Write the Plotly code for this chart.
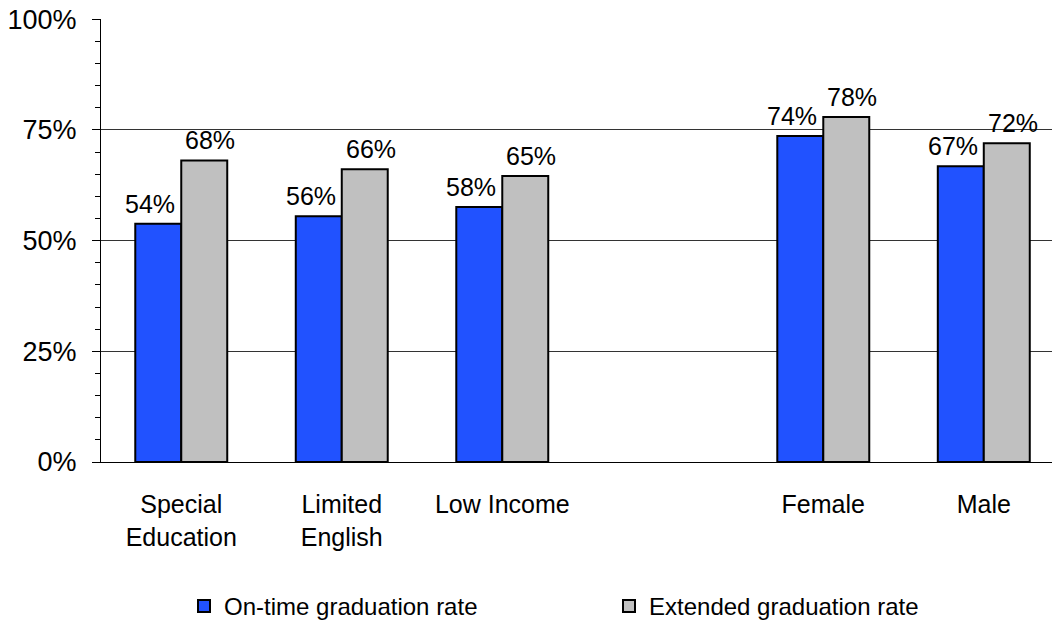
import plotly.graph_objects as go

# groups (blank slot keeps the gap between the two sets of groups)
groups = ["Special<br>Education", "Limited<br>English", "Low Income", " ", "Female", "Male"]
on_time = [53.8, 55.5, 57.6, None, 73.6, 66.8]
extended = [68.1, 66.1, 64.6, None, 77.9, 72.0]
on_time_labels = ["54%", "56%", "58%", "", "74%", "67%"]
extended_labels = ["68%", "66%", "65%", "", "78%", "72%"]
y_ticks = [0, 25, 50, 75, 100]
y_tick_text = ["0%", "25%", "50%", "75%", "100%"]

FONT = "Liberation Sans, Arial, sans-serif"

fig = go.Figure()
fig.add_trace(go.Bar(x=groups, y=on_time, name="On-time graduation rate",
                     marker_color="#2152FF",
                     marker_line=dict(color="black", width=2)))
fig.add_trace(go.Bar(x=groups, y=extended, name="Extended graduation rate",
                     marker_color="#C0C0C0",
                     marker_line=dict(color="black", width=2)))

# value labels sit a little off-centre above each bar, as in the original
for vals, labels, shift in [(on_time, on_time_labels, -31), (extended, extended_labels, 29)]:
    for g, v, t in zip(groups, vals, labels):
        if v is None:
            continue
        fig.add_annotation(x=g, y=v, text=t, showarrow=False, xshift=shift, yshift=4,
                           yanchor="bottom", font=dict(size=25, color="black"))

fig.update_layout(
    width=1052, height=620,
    margin=dict(l=101, r=0, t=19, b=158, autoexpand=False),
    paper_bgcolor="white", plot_bgcolor="white",
    font=dict(family=FONT, color="black"),
    barmode="group", bargap=0.427, bargroupgap=0,
    showlegend=True,
    legend=dict(orientation="h", x=0.0873, xanchor="left", y=-0.275, yanchor="top",
                font=dict(size=24), entrywidth=380, itemwidth=30,
                traceorder="normal"),
)
fig.update_xaxes(range=[-0.5, 5.425], showline=True, linecolor="black", linewidth=1,
                 ticks="", tickfont=dict(size=25), ticklabelstandoff=20,
                 showgrid=False)
# tiny headroom above 100 so the top gridline is still drawn
fig.update_yaxes(range=[0, 100.05], tickvals=y_ticks, ticktext=y_tick_text,
                 tickfont=dict(size=27), showline=True, linecolor="black", linewidth=1,
                 ticks="outside", ticklen=8, tickcolor="black", ticklabeloverflow="allow",
                 showgrid=True, gridcolor="#333333", gridwidth=1,
                 zeroline=False, ticklabelstandoff=10,
                 minor=dict(dtick=5, ticks="outside", ticklen=5, tickcolor="black", showgrid=False))

# drop the browser's default 8px body margin so the figure fills the window
fig.write_html("out.html", config={"displayModeBar": False},
               post_script="document.body.style.margin = '0px';")
